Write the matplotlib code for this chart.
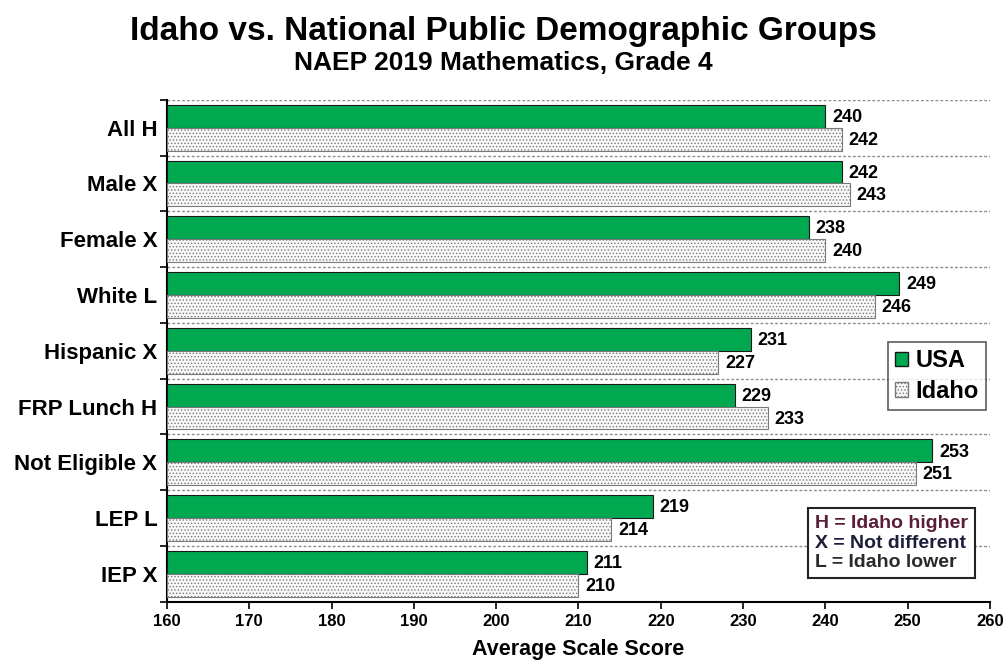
import matplotlib
matplotlib.use("Agg")
import matplotlib.pyplot as plt
import numpy as np
from matplotlib.patches import Patch
from matplotlib.offsetbox import TextArea, VPacker, AnchoredOffsetbox

plt.rcParams['font.family'] = ['Liberation Sans', 'DejaVu Sans']
plt.rcParams['hatch.color'] = '#9a9a9a'
plt.rcParams['hatch.linewidth'] = 0.6

categories = ["All H", "Male X", "Female X", "White L", "Hispanic X",
              "FRP Lunch H", "Not Eligible X", "LEP L", "IEP X"]
usa = [240, 242, 238, 249, 231, 229, 253, 219, 211]
idaho = [242, 243, 240, 246, 227, 233, 251, 214, 210]
xticks = [160, 170, 180, 190, 200, 210, 220, 230, 240, 250, 260]

fig = plt.figure(figsize=(10.06, 6.65), dpi=100)
ax = fig.add_axes([0.166, 0.095, 0.818, 0.755])

y = np.arange(len(categories))
h = 0.41
green = '#00a84f'
ax.barh(y - h / 2, [u - 160 for u in usa], left=160, height=h, color=green,
        edgecolor='#1a1a1a', linewidth=0.8, zorder=3)
ax.barh(y + h / 2, [v - 160 for v in idaho], left=160, height=h, color='#f7f7f7',
        edgecolor='#7a7a7a', linewidth=0.8, hatch='.....', zorder=3)

for i in range(len(categories)):
    ax.text(usa[i] + 0.8, y[i] - h / 2 + 0.02, str(usa[i]), va='center', ha='left',
            fontsize=13, fontweight='bold', zorder=4)
    ax.text(idaho[i] + 0.8, y[i] + h / 2 + 0.02, str(idaho[i]), va='center', ha='left',
            fontsize=13, fontweight='bold', zorder=4)

for b in np.arange(-0.5, len(categories), 1.0):
    ax.axhline(b, color='#8c8c8c', linestyle=(0, (2, 1.5)), linewidth=1.0, zorder=1)

ax.set_xlim(160, 260)
ax.set_ylim(len(categories) - 0.5, -0.5)
ax.set_xticks(xticks)
ax.set_xticklabels([str(t) for t in xticks], fontsize=12, fontweight='bold')
ax.set_yticks(y)
ax.set_yticklabels(categories, fontsize=16, fontweight='bold')
ax.set_yticks(np.arange(-0.5, len(categories), 1.0), minor=True)
ax.tick_params(axis='y', which='major', length=0, pad=7)
ax.tick_params(axis='y', which='minor', length=5, width=1.2, direction='out')
ax.tick_params(axis='x', length=5, width=1.2, direction='out', pad=4)
for s in ['top', 'right']:
    ax.spines[s].set_visible(False)
ax.spines['left'].set_linewidth(1.5)
ax.spines['bottom'].set_linewidth(1.5)
ax.set_xlabel("Average Scale Score", fontsize=15.5, fontweight='bold', labelpad=7)

fig.text(0.5, 0.953, "Idaho vs. National Public Demographic Groups", ha='center',
         va='center', fontsize=24, fontweight='bold')
fig.text(0.5, 0.905, "NAEP 2019 Mathematics, Grade 4", ha='center', va='center',
         fontsize=19, fontweight='bold')

handles = [Patch(facecolor=green, edgecolor='#1a1a1a', label='USA'),
           Patch(facecolor='#f7f7f7', edgecolor='#7a7a7a', hatch='.....', label='Idaho')]
leg = ax.legend(handles=handles, loc='upper left', bbox_to_anchor=(0.876, 0.518),
                prop={'weight': 'bold', 'size': 17}, frameon=True, fancybox=False,
                handlelength=0.55, handleheight=0.55, handletextpad=0.3,
                borderpad=0.32, labelspacing=0.32, borderaxespad=0)
leg.get_frame().set_edgecolor('#333333')
leg.get_frame().set_linewidth(1.2)
leg.set_zorder(5)

key_lines = [("H = Idaho higher", '#5a1e3a'), ("X = Not different", '#1e1e3a'),
             ("L = Idaho lower", '#2a2a2a')]
areas = [TextArea(t, textprops=dict(color=c, fontsize=14, fontweight='bold'))
         for t, c in key_lines]
box = VPacker(children=areas, align='left', pad=0, sep=2)
anch = AnchoredOffsetbox(loc='upper left', child=box, pad=0.5, borderpad=0,
                         bbox_to_anchor=(0.779, 0.187), bbox_transform=ax.transAxes,
                         frameon=True)
anch.patch.set_edgecolor('#222222')
anch.patch.set_linewidth(1.5)
anch.set_zorder(5)
ax.add_artist(anch)

fig.savefig("out.png", dpi=100)
